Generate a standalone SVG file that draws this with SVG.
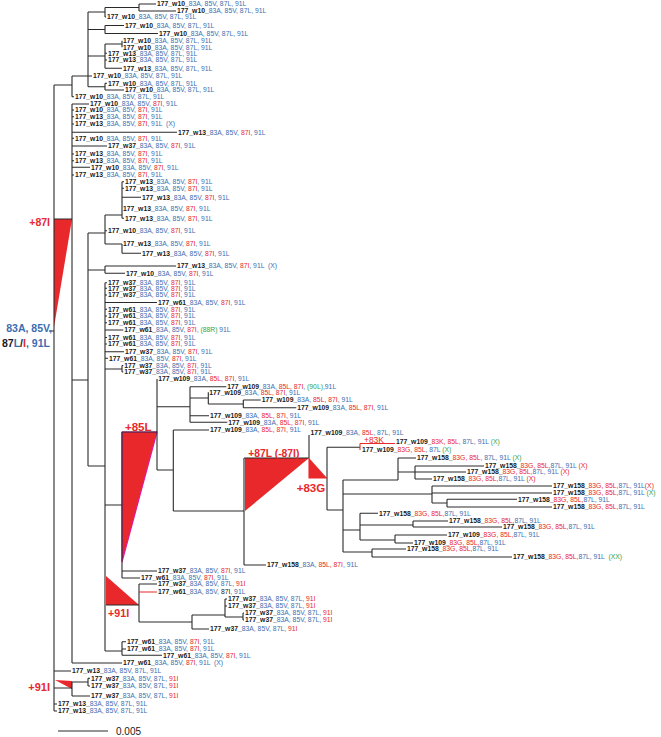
<svg xmlns="http://www.w3.org/2000/svg" width="661" height="737" viewBox="0 0 661 737">
<style>
text{font-family:"Liberation Sans",Arial,sans-serif;font-size:6.8px;white-space:pre}
.k{font-weight:bold;fill:#1a1a1a}
.b{fill:#3b6eb0}
.r{fill:#e8282b}
.g{fill:#34a24a}
.lab{font-weight:bold;fill:#e8282b}
.br{fill:none;stroke:#2a2a2a;stroke-width:1.1}
.rb{fill:none;stroke:#e8282b;stroke-width:1.1}
.tri{fill:#e8282b}
</style>
<rect width="661" height="737" fill="#fff"/>
<g id="markers">
<polygon class="tri" points="54,219 72,219 54,327"/>
<polygon class="tri" points="122,432 157,432 122,562" stroke="#e2189a" stroke-width="1.2"/>
<polygon class="tri" points="245,458 309,458 245,511"/>
<polygon class="tri" points="309,458 309,478 327,478"/>
<polygon class="tri" points="106,576 106,605 139,605"/>
<polygon class="tri" points="55,680 72,681 72,689"/>
</g>
<g id="connectors">
<path class="br" d="M139 4H156M139 11H176M105 17H106M105 25.5H124M105 33.5H158M105 53.3H107M105 60H107M105 68.3H122M72 76H92M105 83.3H107M105 90H124M72 96.7H74
M72 104H89M72 110H74M72 116.7H74M72 124H74M72 132.3H177M72 138.3H74M72 146H107M72 154H74M72 160.7H74M72 167.3H90M72 175H74
M122 181.7H124M122 188.3H124M122 197.3H141M122 218.3H124M105 230.7H107M105 244H122M122 253.3H141M105 266H176M105 273.3H125
M105 282.7H107M105 288.3H107M105 295H107M105 302.5H157M105 309.3H107M105 316H107M105 322.7H107M105 330H123.3M105 337.5H107M105 344H107M105 351.7H124M105 358.3H108M122 365.5H123.3M122 372H123.3
M190 386.7H226.3M243.3 400H260.7M243.3 407.7H296.3M190 415.7H209M190 422.3H227.3M173.3 430H209
M398 458H416M415 466H484M415 472H466M415 479H432M432 486H552M432 493H552M447 499.3H517M447 507H552M360 513.3H378M413 521H448M413 527H502M395 535H447M395 543H413M372 549H406M372 557H512M244 565H266
M122 571H157M122 578H140M139 584H157M225 599H227M225 606H227M243 613H244M243 620H244M192 629H209M122 641.7H126M122 649H126M122 655.3H162M72 663H122M54 671H71M88 678.3H90M88 686H90M72 696H90M54 704H57M54 711H57
M139 4V11M105 7.5H139M105 7.5V17M88 12H105M105 25.5V33.5M88 29.5H105M122 40.7V47.3M105 44H122M105 44V68.3M88 56H105M105 83.3V90M88 86.7H105M88 12V86.7M72 76V96.7M54 85H72
M54 85V711M49 331H54M72 104V663M54 219H72M122 181.7V218.3M105 215H122M105 215V244M88 233H105M122 244V253.3M88 233V466M72 380H88M105 266V273.3M88 270H105M105 282.7V651M88 466H105M122 365.5V372M105 369H122
M122 432V578M105 505H122M157 379V470M122 432H157M190 386.7V422.3M157 406.7H190M208.3 392.3V404M190 398H208.3M243.3 400V407.7M208.3 404H243.3M173.3 430V511M157 470H173.3M244 458V565M173.3 511H244
M309 435V458M244 458H309M327 447.3V510M327 447.3H360M343 480V552M327 510H343M398 458V480M343 480H398M415 466V479M398 472H415M432 486V503M343 494H432M447 499.3V507M432 503H447M360 513.3V540M343 530H360M413 521V527M360 525H413M395 535V543M360 540H395M372 549V557M343 552H372
M139 584V622M106 605H139M192 615V629M139 622H192M225 599V617M192 615H225M243 613V620M225 617H243M122 641.7V655.3M105 651H122M72 682V696M54 688H72M88 678.3V686M72 682H88"/>
<path class="rb" d="M309 458V478H327M360 443.5V450M360 443.5H395M139 592H157"/>
<path class="br" d="M58 731H108"/>
</g>
<g id="labels">
<text class="lab" x="50" y="225.5" text-anchor="end" style="font-size:10.5px">+87I</text>
<text x="52" y="332" text-anchor="end" style="font-size:10.5px;font-weight:bold" class="b">83A, 85V,</text>
<text x="2" y="347" style="font-size:10.5px;font-weight:bold"><tspan class="k">87</tspan><tspan class="b">L</tspan><tspan class="k">/</tspan><tspan class="r">I</tspan><tspan class="b">, 91L</tspan></text>
<text class="lab" x="125" y="430.7" style="font-size:11.5px">+85L</text>
<text class="lab" x="248.3" y="456.5" style="font-size:10.3px">+87L (-87I)</text>
<text class="lab" x="296.7" y="492" style="font-size:11.5px">+83G</text>
<text x="364" y="443" style="font-size:8.4px;fill:#e8282b">+83K</text>
<text class="lab" x="108" y="617" style="font-size:10.7px">+91I</text>
<text class="lab" x="50" y="691" text-anchor="end" style="font-size:11px">+91I</text>
<text x="116" y="734.6" style="font-size:10px;fill:#1a1a1a">0.005</text>
</g>
<g id="leaves">
<g id="n1"><text x="157" y="6.4"><tspan class="k">177_w10_</tspan><tspan class="b">83A, 85V, 87L, 91L</tspan></text></g>
<g id="n2"><text x="177" y="13.4"><tspan class="k">177_w10_</tspan><tspan class="b">83A, 85V, 87L, 91L</tspan></text></g>
<g id="n3"><text x="107" y="19.4"><tspan class="k">177_w10_</tspan><tspan class="b">83A, 85V, 87L, 91L</tspan></text></g>
<g id="n4"><text x="125" y="27.9"><tspan class="k">177_w10_</tspan><tspan class="b">83A, 85V, 87L, 91L</tspan></text></g>
<g id="n5"><text x="159" y="35.9"><tspan class="k">177_w10_</tspan><tspan class="b">83A, 85V, 87L, 91L</tspan></text></g>
<g id="n6"><text x="123" y="43.1"><tspan class="k">177_w10_</tspan><tspan class="b">83A, 85V, 87L, 91L</tspan></text></g>
<g id="n7"><text x="123" y="49.7"><tspan class="k">177_w10_</tspan><tspan class="b">83A, 85V, 87L, 91L</tspan></text></g>
<g id="n8"><text x="108" y="55.7"><tspan class="k">177_w13_</tspan><tspan class="b">83A, 85V, 87L, 91L</tspan></text></g>
<g id="n9"><text x="108" y="62.4"><tspan class="k">177_w13_</tspan><tspan class="b">83A, 85V, 87L, 91L</tspan></text></g>
<g id="n10"><text x="123" y="70.7"><tspan class="k">177_w13_</tspan><tspan class="b">83A, 85V, 87L, 91L</tspan></text></g>
<g id="n11"><text x="93" y="78.4"><tspan class="k">177_w10_</tspan><tspan class="b">83A, 85V, 87L, 91L</tspan></text></g>
<g id="n12"><text x="108" y="85.7"><tspan class="k">177_w10_</tspan><tspan class="b">83A, 85V, 87L, 91L</tspan></text></g>
<g id="n13"><text x="125" y="92.4"><tspan class="k">177_w10_</tspan><tspan class="b">83A, 85V, 87L, 91L</tspan></text></g>
<g id="n14"><text x="75" y="99.1"><tspan class="k">177_w10_</tspan><tspan class="b">83A, 85V, 87L, 91L</tspan></text></g>
<g id="n15"><text x="90" y="106.4"><tspan class="k">177_w10_</tspan><tspan class="b">83A, 85V, </tspan><tspan class="r">87I</tspan><tspan class="b">, 91L</tspan></text></g>
<g id="n16"><text x="75" y="112.4"><tspan class="k">177_w10_</tspan><tspan class="b">83A, 85V, </tspan><tspan class="r">87I</tspan><tspan class="b">, 91L</tspan></text></g>
<g id="n17"><text x="75" y="119.1"><tspan class="k">177_w13_</tspan><tspan class="b">83A, 85V, </tspan><tspan class="r">87I</tspan><tspan class="b">, 91L</tspan></text></g>
<g id="n18"><text x="75" y="126.4"><tspan class="k">177_w13_</tspan><tspan class="b">83A, 85V, </tspan><tspan class="r">87I</tspan><tspan class="b">, 91L  (X)</tspan></text></g>
<g id="n19"><text x="178" y="134.7"><tspan class="k">177_w13_</tspan><tspan class="b">83A, 85V, </tspan><tspan class="r">87I</tspan><tspan class="b">, 91L</tspan></text></g>
<g id="n20"><text x="75" y="140.7"><tspan class="k">177_w10_</tspan><tspan class="b">83A, 85V, </tspan><tspan class="r">87I</tspan><tspan class="b">, 91L</tspan></text></g>
<g id="n21"><text x="108" y="148.4"><tspan class="k">177_w37_</tspan><tspan class="b">83A, 85V, </tspan><tspan class="r">87I</tspan><tspan class="b">, 91L</tspan></text></g>
<g id="n22"><text x="75" y="156.4"><tspan class="k">177_w13_</tspan><tspan class="b">83A, 85V, </tspan><tspan class="r">87I</tspan><tspan class="b">, 91L</tspan></text></g>
<g id="n23"><text x="75" y="163.1"><tspan class="k">177_w13_</tspan><tspan class="b">83A, 85V, </tspan><tspan class="r">87I</tspan><tspan class="b">, 91L</tspan></text></g>
<g id="n24"><text x="91" y="169.7"><tspan class="k">177_w10_</tspan><tspan class="b">83A, 85V, </tspan><tspan class="r">87I</tspan><tspan class="b">, 91L</tspan></text></g>
<g id="n25"><text x="75" y="177.4"><tspan class="k">177_w13_</tspan><tspan class="b">83A, 85V, </tspan><tspan class="r">87I</tspan><tspan class="b">, 91L</tspan></text></g>
<g id="n26"><text x="125" y="184.1"><tspan class="k">177_w13_</tspan><tspan class="b">83A, 85V, </tspan><tspan class="r">87I</tspan><tspan class="b">, 91L</tspan></text></g>
<g id="n27"><text x="125" y="190.7"><tspan class="k">177_w13_</tspan><tspan class="b">83A, 85V, </tspan><tspan class="r">87I</tspan><tspan class="b">, 91L</tspan></text></g>
<g id="n28"><text x="142" y="199.7"><tspan class="k">177_w13_</tspan><tspan class="b">83A, 85V, </tspan><tspan class="r">87I</tspan><tspan class="b">, 91L</tspan></text></g>
<g id="n29"><text x="123" y="210.7"><tspan class="k">177_w13_</tspan><tspan class="b">83A, 85V, </tspan><tspan class="r">87I</tspan><tspan class="b">, 91L</tspan></text></g>
<g id="n30"><text x="125" y="220.7"><tspan class="k">177_w13_</tspan><tspan class="b">83A, 85V, </tspan><tspan class="r">87I</tspan><tspan class="b">, 91L</tspan></text></g>
<g id="n31"><text x="108" y="233.1"><tspan class="k">177_w10_</tspan><tspan class="b">83A, 85V, </tspan><tspan class="r">87I</tspan><tspan class="b">, 91L</tspan></text></g>
<g id="n32"><text x="123" y="246.4"><tspan class="k">177_w13_</tspan><tspan class="b">83A, 85V, </tspan><tspan class="r">87I</tspan><tspan class="b">, 91L</tspan></text></g>
<g id="n33"><text x="142" y="255.7"><tspan class="k">177_w13_</tspan><tspan class="b">83A, 85V, </tspan><tspan class="r">87I</tspan><tspan class="b">, 91L</tspan></text></g>
<g id="n34"><text x="177" y="268.4"><tspan class="k">177_w13_</tspan><tspan class="b">83A, 85V, </tspan><tspan class="r">87I</tspan><tspan class="b">, 91L  (X)</tspan></text></g>
<g id="n35"><text x="126" y="275.7"><tspan class="k">177_w10_</tspan><tspan class="b">83A, 85V, </tspan><tspan class="r">87I</tspan><tspan class="b">, 91L</tspan></text></g>
<g id="n36"><text x="108" y="285.1"><tspan class="k">177_w37_</tspan><tspan class="b">83A, 85V, </tspan><tspan class="r">87I</tspan><tspan class="b">, 91L</tspan></text></g>
<g id="n37"><text x="108" y="290.7"><tspan class="k">177_w37_</tspan><tspan class="b">83A, 85V, </tspan><tspan class="r">87I</tspan><tspan class="b">, 91L</tspan></text></g>
<g id="n38"><text x="108" y="297.4"><tspan class="k">177_w37_</tspan><tspan class="b">83A, 85V, </tspan><tspan class="r">87I</tspan><tspan class="b">, 91L</tspan></text></g>
<g id="n39"><text x="158" y="304.9"><tspan class="k">177_w61_</tspan><tspan class="b">83A, 85V, </tspan><tspan class="r">87I</tspan><tspan class="b">, 91L</tspan></text></g>
<g id="n40"><text x="108" y="311.7"><tspan class="k">177_w61_</tspan><tspan class="b">83A, 85V, </tspan><tspan class="r">87I</tspan><tspan class="b">, 91L</tspan></text></g>
<g id="n41"><text x="108" y="318.4"><tspan class="k">177_w61_</tspan><tspan class="b">83A, 85V, </tspan><tspan class="r">87I</tspan><tspan class="b">, 91L</tspan></text></g>
<g id="n42"><text x="108" y="325.1"><tspan class="k">177_w61_</tspan><tspan class="b">83A, 85V, </tspan><tspan class="r">87I</tspan><tspan class="b">, 91L</tspan></text></g>
<g id="n43"><text x="124.3" y="332.4"><tspan class="k">177_w61_</tspan><tspan class="b">83A, 85V, </tspan><tspan class="r">87I</tspan><tspan class="b">, </tspan><tspan class="g">(88R)</tspan><tspan class="b"> 91L</tspan></text></g>
<g id="n44"><text x="108" y="339.9"><tspan class="k">177_w61_</tspan><tspan class="b">83A, 85V, </tspan><tspan class="r">87I</tspan><tspan class="b">, 91L</tspan></text></g>
<g id="n45"><text x="108" y="346.4"><tspan class="k">177_w61_</tspan><tspan class="b">83A, 85V, </tspan><tspan class="r">87I</tspan><tspan class="b">, 91L</tspan></text></g>
<g id="n46"><text x="125" y="354.1"><tspan class="k">177_w37_</tspan><tspan class="b">83A, 85V, </tspan><tspan class="r">87I</tspan><tspan class="b">, 91L</tspan></text></g>
<g id="n47"><text x="109" y="360.7"><tspan class="k">177_w61_</tspan><tspan class="b">83A, 85V, </tspan><tspan class="r">87I</tspan><tspan class="b">, 91L</tspan></text></g>
<g id="n48"><text x="124.3" y="367.6"><tspan class="k">177_w37_</tspan><tspan class="b">83A, 85V, </tspan><tspan class="r">87I</tspan><tspan class="b">, 91L</tspan></text></g>
<g id="n49"><text x="124.3" y="374.4"><tspan class="k">177_w37_</tspan><tspan class="b">83A, 85V, </tspan><tspan class="r">87I</tspan><tspan class="b">, 91L</tspan></text></g>
<g id="n50"><text x="158.3" y="381.4"><tspan class="k">177_w109_</tspan><tspan class="b">83A, </tspan><tspan class="r">85L, 87I</tspan><tspan class="b">, 91L</tspan></text></g>
<g id="n51"><text x="227.3" y="389.1"><tspan class="k">177_w109_</tspan><tspan class="b">83A, </tspan><tspan class="r">85L, 87I</tspan><tspan class="b">, </tspan><tspan class="g">(90L)</tspan><tspan class="b">,91L</tspan></text></g>
<g id="n52"><text x="209.3" y="394.7"><tspan class="k">177_w109_</tspan><tspan class="b">83A, </tspan><tspan class="r">85L, 87I</tspan><tspan class="b">, 91L</tspan></text></g>
<g id="n53"><text x="261.7" y="402.4"><tspan class="k">177_w109_</tspan><tspan class="b">83A, </tspan><tspan class="r">85L, 87I</tspan><tspan class="b">, 91L</tspan></text></g>
<g id="n54"><text x="297.3" y="410.1"><tspan class="k">177_w109_</tspan><tspan class="b">83A, </tspan><tspan class="r">85L, 87I</tspan><tspan class="b">, 91L</tspan></text></g>
<g id="n55"><text x="210" y="418.1"><tspan class="k">177_w109_</tspan><tspan class="b">83A, </tspan><tspan class="r">85L, 87I</tspan><tspan class="b">, 91L</tspan></text></g>
<g id="n56"><text x="228.3" y="424.7"><tspan class="k">177_w109_</tspan><tspan class="b">83A, </tspan><tspan class="r">85L, 87I</tspan><tspan class="b">, 91L</tspan></text></g>
<g id="n57"><text x="210" y="432.4"><tspan class="k">177_w109_</tspan><tspan class="b">83A, </tspan><tspan class="r">85L, 87I</tspan><tspan class="b">, 91L</tspan></text></g>
<g id="n58"><text x="310.5" y="434.5"><tspan class="k">177_w109_</tspan><tspan class="b">83A, </tspan><tspan class="r">85L</tspan><tspan class="b">, 87L, 91L</tspan></text></g>
<g id="n59"><text x="396" y="444"><tspan class="k">177_w109_</tspan><tspan class="r">83K, 85L</tspan><tspan class="b">, 87L, 91L </tspan><tspan class="g">(X)</tspan></text></g>
<g id="n60"><text x="362" y="452.4"><tspan class="k">177_w109_</tspan><tspan class="r">83G, 85L</tspan><tspan class="b">, 87L </tspan><tspan class="g">(X)</tspan></text></g>
<g id="n61"><text x="417" y="460.4"><tspan class="k">177_w158_</tspan><tspan class="r">83G, 85L</tspan><tspan class="b">, 87L, 91L </tspan><tspan class="g">(X)</tspan></text></g>
<g id="n62"><text x="485" y="468.4"><tspan class="k">177_w158_</tspan><tspan class="r">83G, 85L,</tspan><tspan class="b">87L, 91L </tspan><tspan class="r">(X)</tspan></text></g>
<g id="n63"><text x="467" y="474.4"><tspan class="k">177_w158_</tspan><tspan class="r">83G, 85L,</tspan><tspan class="b">87L, 91L </tspan><tspan class="r">(X)</tspan></text></g>
<g id="n64"><text x="433" y="481.4"><tspan class="k">177_w158_</tspan><tspan class="r">83G, 85L,</tspan><tspan class="b">87L, 91L </tspan><tspan class="r">(X)</tspan></text></g>
<g id="n65"><text x="553" y="488.4"><tspan class="k">177_w158_</tspan><tspan class="r">83G, 85L,</tspan><tspan class="b">87L, 91L</tspan><tspan class="r">(X)</tspan></text></g>
<g id="n66"><text x="553" y="495.4"><tspan class="k">177_w158_</tspan><tspan class="r">83G, 85L,</tspan><tspan class="b">87L, 91L </tspan><tspan class="g">(X)</tspan></text></g>
<g id="n67"><text x="518" y="501.7"><tspan class="k">177_w158_</tspan><tspan class="r">83G, 85L,</tspan><tspan class="b">87L, 91L</tspan></text></g>
<g id="n68"><text x="553" y="509.4"><tspan class="k">177_w158_</tspan><tspan class="r">83G, 85L,</tspan><tspan class="b">87L, 91L</tspan></text></g>
<g id="n69"><text x="379" y="515.7"><tspan class="k">177_w158_</tspan><tspan class="r">83G, 85L,</tspan><tspan class="b">87L, 91L</tspan></text></g>
<g id="n70"><text x="449" y="523.4"><tspan class="k">177_w158_</tspan><tspan class="r">83G, 85L,</tspan><tspan class="b">87L, 91L</tspan></text></g>
<g id="n71"><text x="503" y="529.4"><tspan class="k">177_w158_</tspan><tspan class="r">83G, 85L,</tspan><tspan class="b">87L, 91L</tspan></text></g>
<g id="n72"><text x="448" y="537.4"><tspan class="k">177_w109_</tspan><tspan class="r">83G, 85L,</tspan><tspan class="b">87L, 91L</tspan></text></g>
<g id="n73"><text x="414" y="545.4"><tspan class="k">177_w109_</tspan><tspan class="r">83G, 85L,</tspan><tspan class="b">87L, 91L</tspan></text></g>
<g id="n74"><text x="407" y="551.4"><tspan class="k">177_w158_</tspan><tspan class="r">83G, 85L,</tspan><tspan class="b">87L, 91L</tspan></text></g>
<g id="n75"><text x="513" y="559.4"><tspan class="k">177_w158_</tspan><tspan class="r">83G, 85L,</tspan><tspan class="b">87L, 91L  </tspan><tspan class="g">(XX)</tspan></text></g>
<g id="n76"><text x="267" y="567.4"><tspan class="k">177_w158_</tspan><tspan class="b">83A, </tspan><tspan class="r">85L, 87I</tspan><tspan class="b">, 91L</tspan></text></g>
<g id="n77"><text x="158" y="573.4"><tspan class="k">177_w37_</tspan><tspan class="b">83A, 85V, </tspan><tspan class="r">87I</tspan><tspan class="b">, 91L</tspan></text></g>
<g id="n78"><text x="141" y="580.4"><tspan class="k">177_w61_</tspan><tspan class="b">83A, 85V, </tspan><tspan class="r">87I</tspan><tspan class="b">, 91L</tspan></text></g>
<g id="n79"><text x="158" y="586.4"><tspan class="k">177_w37_</tspan><tspan class="b">83A, 85V, 87L, </tspan><tspan class="r">91I</tspan></text></g>
<g id="n80"><text x="158" y="594.4"><tspan class="k">177_w61_</tspan><tspan class="b">83A, 85V, </tspan><tspan class="k" style="font-weight:normal">87I</tspan><tspan class="b">, 91L</tspan></text></g>
<g id="n81"><text x="228" y="601.4"><tspan class="k">177_w37_</tspan><tspan class="b">83A, 85V, 87L, </tspan><tspan class="r">91I</tspan></text></g>
<g id="n82"><text x="228" y="608.4"><tspan class="k">177_w37_</tspan><tspan class="b">83A, 85V, 87L, </tspan><tspan class="r">91I</tspan></text></g>
<g id="n83"><text x="245" y="615.4"><tspan class="k">177_w37_</tspan><tspan class="b">83A, 85V, 87L, </tspan><tspan class="r">91I</tspan></text></g>
<g id="n84"><text x="245" y="622.4"><tspan class="k">177_w37_</tspan><tspan class="b">83A, 85V, 87L, </tspan><tspan class="r">91I</tspan></text></g>
<g id="n85"><text x="210" y="631.4"><tspan class="k">177_w37_</tspan><tspan class="b">83A, 85V, 87L, </tspan><tspan class="r">91I</tspan></text></g>
<g id="n86"><text x="127" y="644.1"><tspan class="k">177_w61_</tspan><tspan class="b">83A, 85V, </tspan><tspan class="r">87I</tspan><tspan class="b">, 91L</tspan></text></g>
<g id="n87"><text x="127" y="651.4"><tspan class="k">177_w61_</tspan><tspan class="b">83A, 85V, </tspan><tspan class="r">87I</tspan><tspan class="b">, 91L</tspan></text></g>
<g id="n88"><text x="163" y="657.7"><tspan class="k">177_w61_</tspan><tspan class="b">83A, 85V, </tspan><tspan class="r">87I</tspan><tspan class="b">, 91L</tspan></text></g>
<g id="n89"><text x="123" y="665.4"><tspan class="k">177_w61_</tspan><tspan class="b">83A, 85V, </tspan><tspan class="r">87I</tspan><tspan class="b">, 91L  (X)</tspan></text></g>
<g id="n90"><text x="72" y="673.4"><tspan class="k">177_w13_</tspan><tspan class="b">83A, 85V, 87L, 91L</tspan></text></g>
<g id="n91"><text x="91" y="680.7"><tspan class="k">177_w37_</tspan><tspan class="b">83A, 85V, 87L, </tspan><tspan class="r">91I</tspan></text></g>
<g id="n92"><text x="91" y="688.4"><tspan class="k">177_w37_</tspan><tspan class="b">83A, 85V, 87L, </tspan><tspan class="r">91I</tspan></text></g>
<g id="n93"><text x="91" y="698.4"><tspan class="k">177_w37_</tspan><tspan class="b">83A, 85V, 87L, </tspan><tspan class="r">91I</tspan></text></g>
<g id="n94"><text x="58" y="706.4"><tspan class="k">177_w13_</tspan><tspan class="b">83A, 85V, 87L, 91L</tspan></text></g>
<g id="n95"><text x="58" y="713.4"><tspan class="k">177_w13_</tspan><tspan class="b">83A, 85V, 87L, 91L</tspan></text></g>
</g>
</svg>
